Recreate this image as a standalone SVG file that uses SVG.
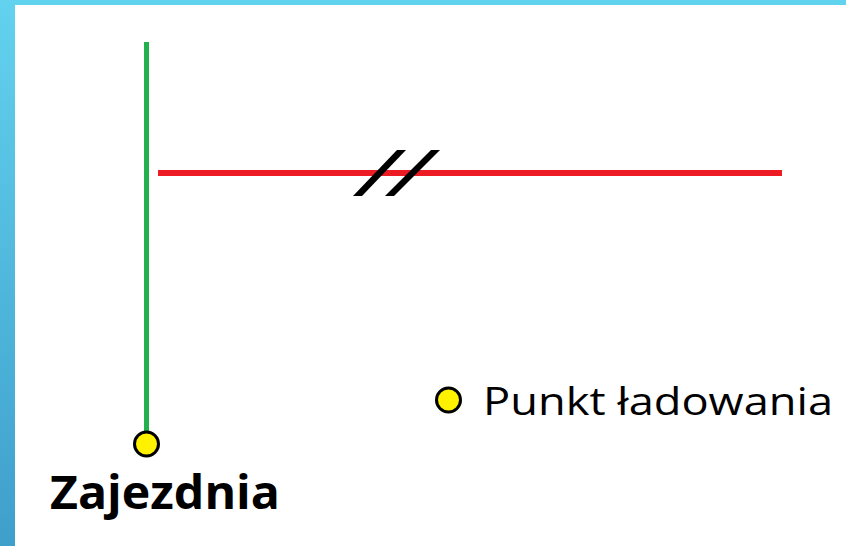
<svg xmlns="http://www.w3.org/2000/svg" width="846" height="546" viewBox="0 0 846 546">
  <defs>
    <linearGradient id="sideGrad" x1="0" y1="0" x2="0" y2="1">
      <stop offset="0" stop-color="#62d2ee"/>
      <stop offset="1" stop-color="#3f9fcb"/>
    </linearGradient>
    <style>
      .stop { fill: #fff200; stroke: #000; stroke-width: 3; }
      .lbl { font-family: "Open Sans", "Liberation Sans", sans-serif; fill: #000; }
    </style>
  </defs>
  <rect x="0" y="0" width="846" height="546" fill="#ffffff"/>
  <rect x="0" y="0" width="846" height="5" fill="#62d3ef"/>
  <rect x="0" y="0" width="15" height="546" fill="url(#sideGrad)"/>

  <g id="connectors">
    <line x1="146.5" y1="42" x2="146.5" y2="432" stroke="#22b14c" stroke-width="5"/>
    <line x1="158" y1="173" x2="782" y2="173" stroke="#ed1c24" stroke-width="6"/>
    <polygon points="353,196 362,196 406,150 397,150" fill="#000"/>
    <polygon points="385,196 394,196 440,150 431,150" fill="#000"/>
  </g>

  <g id="zajezdnia">
    <circle class="stop" cx="146.5" cy="444" r="12"/>
    <text class="lbl" x="50" y="509" font-size="46" font-weight="bold" textLength="230" lengthAdjust="spacingAndGlyphs">Zajezdnia</text>
  </g>

  <g id="punkt-ladowania">
    <circle class="stop" cx="448.5" cy="400" r="12"/>
    <text class="lbl" x="483" y="415" font-size="39" textLength="350" lengthAdjust="spacingAndGlyphs">Punkt ładowania</text>
  </g>
</svg>
